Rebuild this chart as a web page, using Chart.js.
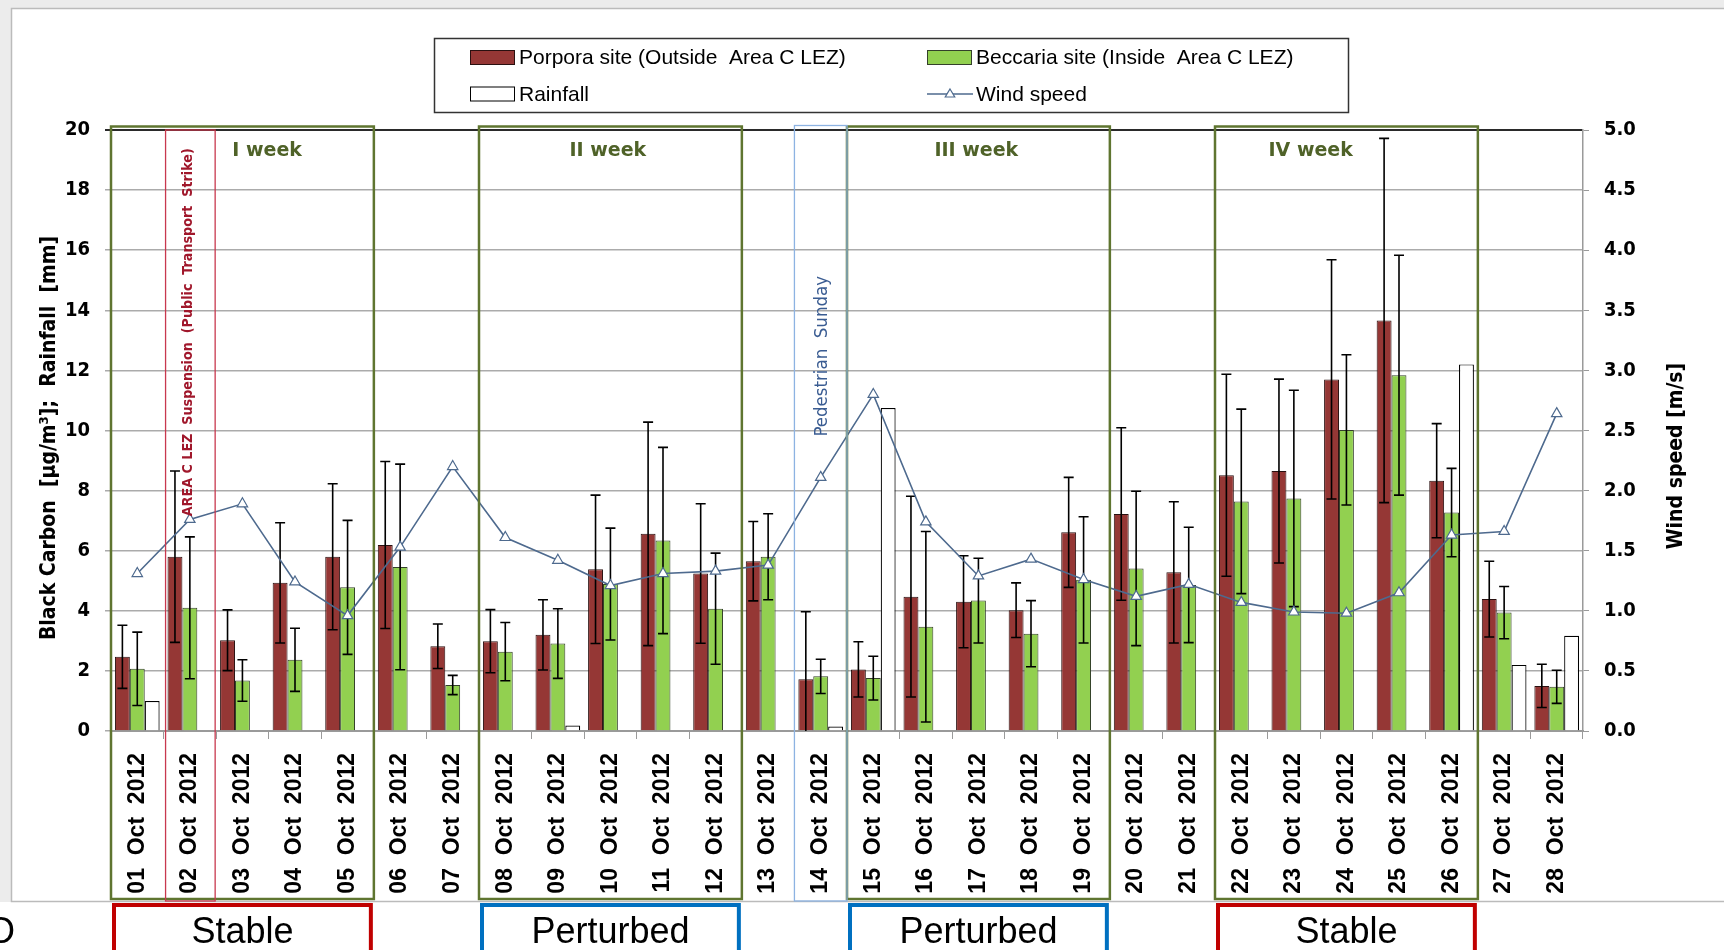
<!DOCTYPE html>
<html><head><meta charset="utf-8">
<script src="https://cdn.jsdelivr.net/npm/chart.js@4.4.1/dist/chart.umd.min.js"></script>
<style>html,body{margin:0;padding:0;background:#fff;overflow:hidden}canvas{display:block}</style>
</head><body><canvas id="c" width="1724" height="950"></canvas>
<script>
// ---------------- DATA ----------------
const categories = ['01 Oct 2012','02 Oct 2012','03 Oct 2012','04 Oct 2012','05 Oct 2012','06 Oct 2012','07 Oct 2012',
  '08 Oct 2012','09 Oct 2012','10 Oct 2012','11 Oct 2012','12 Oct 2012','13 Oct 2012','14 Oct 2012',
  '15 Oct 2012','16 Oct 2012','17 Oct 2012','18 Oct 2012','19 Oct 2012','20 Oct 2012','21 Oct 2012',
  '22 Oct 2012','23 Oct 2012','24 Oct 2012','25 Oct 2012','26 Oct 2012','27 Oct 2012','28 Oct 2012'];
const porpora    = [2.47,5.80,3.02,4.93,5.80,6.19,2.82,2.99,3.20,5.38,6.56,5.24,5.65,1.72,2.05,4.47,4.30,4.02,6.61,7.22,5.28,8.51,8.65,11.70,13.66,8.33,4.39,1.50];
const porporaSD  = [1.05,2.85,1.01,2.00,2.43,2.78,0.74,1.05,1.17,2.47,3.72,2.32,1.32,2.25,0.92,3.34,1.53,0.91,1.83,2.87,2.35,3.36,3.06,3.98,6.06,1.90,1.26,0.72];
const beccaria   = [2.07,4.10,1.68,2.37,4.78,5.46,1.53,2.64,2.91,4.89,6.34,4.07,5.80,1.82,1.76,3.47,4.34,3.24,5.03,5.41,4.86,7.64,7.74,10.02,11.84,7.27,3.94,1.47];
const beccariaSD = [1.22,2.36,0.69,1.05,2.23,3.42,0.32,0.97,1.16,1.86,3.10,1.85,1.43,0.57,0.73,3.17,1.41,1.10,2.10,2.57,1.92,3.07,3.60,2.50,3.99,1.47,0.87,0.55];
const rainfall   = [1.0,0,0,0,0,0,0,0,0.18,0,0,0,0,0.15,10.75,0,0,0,0,0,0,0,0,0,0,12.2,2.2,3.17];
const windSpeed  = [1.31,1.76,1.89,1.24,0.96,1.53,2.20,1.61,1.42,1.21,1.31,1.33,1.38,2.11,2.80,1.74,1.29,1.43,1.26,1.12,1.22,1.07,0.99,0.98,1.15,1.63,1.66,2.64];
const seriesLabels = ['Porpora site (Outside  Area C LEZ)','Beccaria site (Inside  Area C LEZ)','Rainfall','Wind speed'];
const leftTitle = 'Black Carbon  [µg/m³];  Rainfall  [mm]';
const rightTitle = 'Wind speed [m/s]';
const weekLabels = ['I week','II week','III week','IV week'];
const weekSpans = [[0,4],[7,11],[14,18],[21,25]];
const periodLabels = ['Stable','Perturbed','Perturbed','Stable'];
const periodKinds = ['stable','perturbed','perturbed','stable'];
const strikeLabel = 'AREA C LEZ  Suspension  (Public  Transport  Strike)';
const strikeDay = 1;
const sundayLabel = 'Pedestrian  Sunday';
const sundayDay = 13;

// ---------------- STYLE ----------------
const COND = "'DejaVu Sans Condensed', 'DejaVu Sans', sans-serif";
const RED = '#953735', GREEN = '#92D050', WIND = '#4E6A8E', OLIVE = '#5F7530';

const errorBars = {
  id: 'errorBars',
  afterDatasetDraw(chart, args) {
    const ds = chart.data.datasets[args.index];
    if (!ds.errors) return;
    const y = chart.scales.y, ctx = chart.ctx, ca = chart.chartArea;
    ctx.save();
    ctx.beginPath(); ctx.rect(ca.left, ca.top - 2, ca.right - ca.left, ca.bottom - ca.top + 2); ctx.clip();
    ctx.strokeStyle = '#000'; ctx.lineWidth = 1.6;
    args.meta.data.forEach((bar, i) => {
      const v = ds.data[i], e = ds.errors[i];
      if (v == null || e == null) return;
      const yt = y.getPixelForValue(v + e), yb = y.getPixelForValue(v - e), x = bar.x, cap = 5;
      ctx.beginPath();
      ctx.moveTo(x, yt); ctx.lineTo(x, yb);
      ctx.moveTo(x - cap, yt); ctx.lineTo(x + cap, yt);
      ctx.moveTo(x - cap, yb); ctx.lineTo(x + cap, yb);
      ctx.stroke();
    });
    ctx.restore();
  }
};

function tri(ctx, x, y, r, stroke) {
  ctx.beginPath();
  ctx.moveTo(x, y - r);
  ctx.lineTo(x + r * 0.95, y + r * 0.6);
  ctx.lineTo(x - r * 0.95, y + r * 0.6);
  ctx.closePath();
  ctx.fillStyle = '#fff'; ctx.fill();
  ctx.strokeStyle = stroke; ctx.lineWidth = 1.2; ctx.stroke();
}

const frame = {
  id: 'frame',
  beforeDraw(chart) {
    const ctx = chart.ctx, W = chart.width, H = chart.height;
    ctx.save();
    ctx.fillStyle = '#fff'; ctx.fillRect(0, 0, W, H);
    ctx.fillStyle = '#ECECEC'; ctx.fillRect(0, 0, W, 8); ctx.fillRect(0, 0, 11, 902);
    ctx.strokeStyle = '#BBBBBB'; ctx.lineWidth = 1.5;
    ctx.strokeRect(11.5, 8.5, W + 10, 893);
    ctx.fillStyle = '#000'; ctx.font = "36px 'Liberation Sans'"; ctx.textBaseline = 'alphabetic';
    ctx.fillText('O', -13, 943);
    ctx.restore();
  }
};

const deco = {
  id: 'deco',
  afterDraw(chart) {
    const ctx = chart.ctx, xs = chart.scales.x, ys = chart.scales.y, ca = chart.chartArea;
    const half = (xs.getPixelForValue(1) - xs.getPixelForValue(0)) / 2;
    const boxTop = ca.top - 3.5, boxBot = ca.bottom + 168;
    ctx.save();
    // week boxes
    ctx.strokeStyle = OLIVE; ctx.lineWidth = 2.5;
    weekSpans.forEach(([a, b]) => {
      const x0 = xs.getPixelForValue(a) - half, x1 = xs.getPixelForValue(b) + half;
      ctx.strokeRect(x0, boxTop, x1 - x0, boxBot - boxTop);
    });
    // strike day box (red) and pedestrian sunday box (blue)
    ctx.lineWidth = 1.3;
    ctx.strokeStyle = '#C8384E';
    let x0 = xs.getPixelForValue(strikeDay) - half + 2, x1 = xs.getPixelForValue(strikeDay) + half - 1;
    ctx.strokeRect(x0, ca.top, x1 - x0, boxBot + 2 - ca.top);
    ctx.strokeStyle = '#8DB3E2';
    x0 = xs.getPixelForValue(sundayDay) - half; x1 = xs.getPixelForValue(sundayDay) + half;
    ctx.strokeRect(x0, boxTop - 1, x1 - x0, boxBot + 3 - boxTop);
    // week labels
    const wkPos = [2.47, 8.95, 15.96, 22.32];
    ctx.font = "bold 19px 'DejaVu Sans'"; ctx.textAlign = 'center'; ctx.textBaseline = 'middle';
    weekLabels.forEach((t, i) => {
      const x = xs.getPixelForValue(wkPos[i]), y = ys.getPixelForValue(19.3);
      ctx.lineWidth = 3; ctx.strokeStyle = '#fff'; ctx.strokeText(t, x, y);
      ctx.fillStyle = '#4F6228'; ctx.fillText(t, x, y);
    });
    // rotated annotations
    ctx.save();
    ctx.translate(xs.getPixelForValue(strikeDay) - 2, ys.getPixelForValue(13.27));
    ctx.rotate(-Math.PI / 2);
    ctx.font = "bold 14.2px " + COND; ctx.fillStyle = '#A0172B';
    ctx.fillText(strikeLabel, 0, 0);
    ctx.restore();
    ctx.save();
    ctx.translate(xs.getPixelForValue(sundayDay) + 1, ys.getPixelForValue(12.47));
    ctx.rotate(-Math.PI / 2);
    ctx.font = "18.5px " + COND; ctx.fillStyle = '#3A5C92';
    ctx.fillText(sundayLabel, 0, 0);
    ctx.restore();
    // axis titles
    ctx.font = "bold 21px " + COND; ctx.fillStyle = '#000';
    ctx.save(); ctx.translate(50, 438); ctx.rotate(-Math.PI / 2); ctx.fillText(leftTitle, 0, 0); ctx.restore();
    ctx.save(); ctx.translate(1677, 456); ctx.rotate(-Math.PI / 2); ctx.fillText(rightTitle, 0, 0); ctx.restore();
    // legend
    const ds = chart.data.datasets;
    ctx.strokeStyle = '#333'; ctx.lineWidth = 1.5;
    ctx.strokeRect(434.5, 38.5, 914, 74);
    ctx.font = "21px 'Liberation Sans'"; ctx.textAlign = 'left'; ctx.textBaseline = 'middle'; 
    const items = [[0, 470, 57.5], [1, 927, 57.5], [2, 470, 94], [3, 927, 94]];
    items.forEach(([k, x, y]) => {
      const d = ds[k];
      if (d.type === 'line') {
        ctx.strokeStyle = d.borderColor; ctx.lineWidth = 1.5;
        ctx.beginPath(); ctx.moveTo(x, y); ctx.lineTo(x + 46, y); ctx.stroke();
        tri(ctx, x + 23, y, 5, d.borderColor);
      } else {
        ctx.fillStyle = d.backgroundColor; ctx.fillRect(x, y - 7.5, 45, 15);
        ctx.strokeStyle = d.borderColor; ctx.lineWidth = 1; ctx.strokeRect(x + 0.5, y - 7, 44, 14);
      }
      ctx.fillStyle = '#000'; ctx.fillText(d.label, x + 49, y + 1);
    });
    // period boxes at bottom
    ctx.font = "36px 'Liberation Sans'"; ctx.textAlign = 'center'; ctx.textBaseline = 'alphabetic';
    weekSpans.forEach(([a, b], i) => {
      const px0 = xs.getPixelForValue(a) - half + 3, px1 = xs.getPixelForValue(b) + half - 3;
      ctx.strokeStyle = periodKinds[i] === 'stable' ? '#C00000' : '#0070C0';
      ctx.lineWidth = 4;
      ctx.strokeRect(px0, 905, px1 - px0, 60);
      ctx.fillStyle = '#000';
      ctx.fillText(periodLabels[i], (px0 + px1) / 2, 943);
    });
    ctx.restore();
  }
};

new Chart(document.getElementById('c'), {
  type: 'bar',
  data: {
    labels: categories,
    datasets: [
      { label: seriesLabels[0], data: porpora, errors: porporaSD, backgroundColor: RED, borderColor: '#2a1010', borderWidth: 1, yAxisID: 'y', order: 1 },
      { label: seriesLabels[1], data: beccaria, errors: beccariaSD, backgroundColor: GREEN, borderColor: '#34402a', borderWidth: 1, yAxisID: 'y', order: 1 },
      { label: seriesLabels[2], data: rainfall.map(v => v > 0 ? v : null), backgroundColor: '#FFFFFF', borderColor: '#000', borderWidth: 1.2, yAxisID: 'y', order: 1 },
      { type: 'line', label: seriesLabels[3], data: windSpeed, yAxisID: 'y1', order: 0,
        borderColor: WIND, borderWidth: 1.6, tension: 0, fill: false,
        pointStyle: 'triangle', pointRadius: 6, pointBackgroundColor: '#fff', pointBorderColor: WIND, pointBorderWidth: 1.2 }
    ]
  },
  options: {
    responsive: false, animation: false, devicePixelRatio: 1,
    layout: { padding: { top: 130, bottom: 49, left: 0, right: 11 } },
    datasets: { bar: { categoryPercentage: 0.85, barPercentage: 1.0 } },
    plugins: { legend: { display: false }, tooltip: { enabled: false }, title: { display: false } },
    scales: {
      x: {
        grid: { drawOnChartArea: false, drawTicks: true, tickLength: 8, color: '#9A9A9A', offset: true },
        border: { color: '#9A9A9A', width: 2 },
        ticks: { autoSkip: false, minRotation: 90, maxRotation: 90, padding: 14, color: '#000',
          font: { family: "'Liberation Sans', Arial, sans-serif", weight: 'bold', size: 23 },
          callback: (v, i) => categories[i].split(' ').join('  ') },
        afterFit: s => { s.height = 170; }
      },
      y: {
        position: 'left', min: 0, max: 20,
        ticks: { stepSize: 2, padding: 15, color: '#000', font: { family: COND, weight: 'bold', size: 20 } },
        grid: { tickLength: 6, color: c => c.tick && c.tick.value === 20 ? '#2a2a2a' : '#ABABAB', lineWidth: c => c.tick && c.tick.value === 20 ? 2 : 1.5 },
        border: { display: false },
        afterFit: s => { s.width = 111; }
      },
      y1: {
        position: 'right', min: 0, max: 5,
        ticks: { stepSize: 0.5, padding: 15, color: '#000', font: { family: COND, weight: 'bold', size: 20 }, callback: v => Number(v).toFixed(1) },
        grid: { drawOnChartArea: false, tickLength: 6, color: '#9A9A9A' },
        border: { color: '#9A9A9A', width: 1.5 },
        afterFit: s => { s.width = 130; }
      }
    }
  },
  plugins: [frame, errorBars, deco]
});
</script>
</body></html>
